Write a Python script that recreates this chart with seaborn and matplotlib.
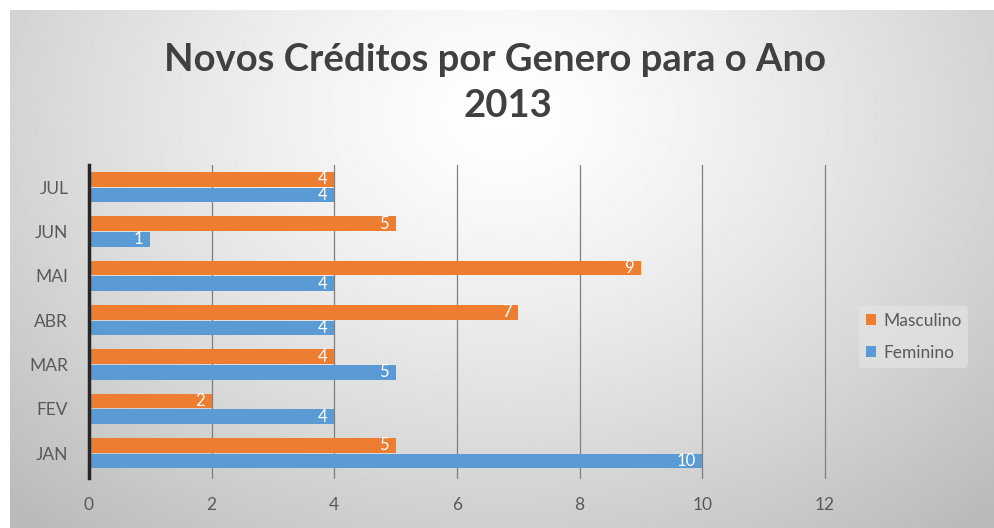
import numpy as np
import pandas as pd
import matplotlib.pyplot as plt
import seaborn as sns

# Data
MONTHS = ["JUL", "JUN", "MAI", "ABR", "MAR", "FEV", "JAN"]
MASCULINO = [4, 5, 9, 7, 4, 2, 5]
FEMININO = [4, 1, 4, 4, 5, 4, 10]
SERIES = ["Masculino", "Feminino"]
COLORS = ["#ED7D31", "#5B9BD5"]
XTICKS = [0, 2, 4, 6, 8, 10, 12]

df = pd.DataFrame({
    "mes": MONTHS * 2,
    "genero": [SERIES[0]] * len(MONTHS) + [SERIES[1]] * len(MONTHS),
    "valor": MASCULINO + FEMININO,
})

sns.set_theme(style="white")
plt.rcParams["font.family"] = ["Lato", "DejaVu Sans"]

fig = plt.figure(figsize=(9.95, 5.28), dpi=100)

# Excel-like radial gradient background
bg = fig.add_axes([10 / 995, 0, 1 - 10 / 995, 1 - 10 / 528], zorder=-10)
yy, xx = np.mgrid[0:1:300j, 0:1:600j]
r = np.sqrt(((xx - 0.5) / 0.72) ** 2 + ((yy - 0.2) / 1.05) ** 2)
shade = 1 - 0.27 * np.clip(r, 0, 1) ** 1.3
bg.imshow(shade, cmap="gray", vmin=0, vmax=1, aspect="auto",
          extent=(0, 1, 0, 1), origin="upper")
bg.axis("off")

ax = fig.add_axes([89 / 995, 1 - 478 / 528, (825 - 89) / 995, (478 - 165) / 528])
ax.set_facecolor("none")

sns.barplot(data=df, y="mes", x="valor", hue="genero", order=MONTHS,
            hue_order=SERIES, palette=COLORS, orient="h", width=0.72,
            gap=0.08, saturation=1, linewidth=0, ax=ax)

for cont in ax.containers:
    for t in ax.bar_label(cont, padding=-5, color="white", fontsize=12):
        t.set_ha("right")

ax.set_xlim(0, 12)
ax.set_ylim(6.56, -0.5)
ax.set_xticks(XTICKS)
ax.set_xlabel("")
ax.set_ylabel("")
ax.xaxis.grid(True, color="#7f7f7f", lw=0.9)
for gl in ax.get_xgridlines():
    gl.set_clip_on(False)
ax.set_axisbelow(True)
for side in ["top", "right", "bottom"]:
    ax.spines[side].set_visible(False)
ax.spines["left"].set_color("#262626")
ax.spines["left"].set_linewidth(2.5)
ax.tick_params(axis="both", length=0, labelsize=12.5, labelcolor="#595959")
ax.tick_params(axis="x", pad=14)
ax.tick_params(axis="y", pad=15)

sns.move_legend(ax, "center", bbox_to_anchor=(0.918, 0.362),
                bbox_transform=fig.transFigure, title=None, frameon=True,
                fontsize=12.5, handlelength=0.6, handleheight=0.6,
                handletextpad=0.4, labelspacing=0.9, facecolor="#e6e6e6",
                edgecolor="none", framealpha=0.6, labelcolor="#595959")

fig.text(0.497, 0.886, "Novos Créditos por Genero para o Ano", ha="center",
         va="center", fontsize=27.5, weight="bold", color="#404040")
fig.text(0.51, 0.80, "2013", ha="center", va="center", fontsize=27.5,
         weight="bold", color="#404040")

fig.savefig("out.png", dpi=100)
